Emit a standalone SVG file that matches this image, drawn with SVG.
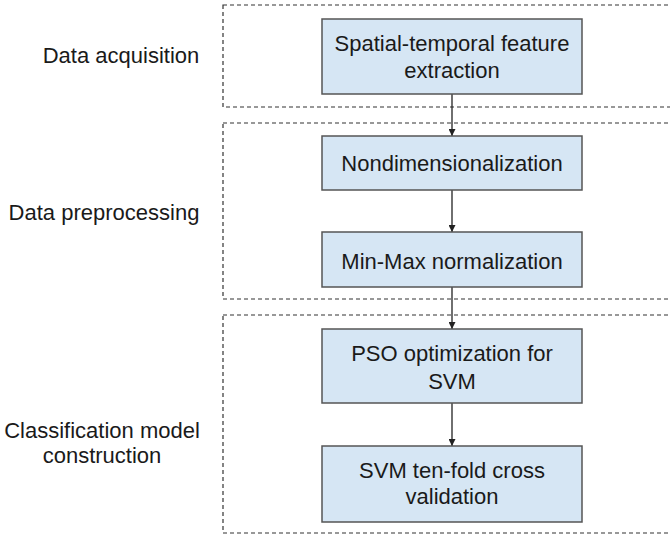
<svg xmlns="http://www.w3.org/2000/svg" width="670" height="539" viewBox="0 0 670 539">
<style>
.grp{fill:none;stroke:#333;stroke-width:1.2;stroke-dasharray:4 3}
.box{fill:#d6e6f4;stroke:#555;stroke-width:1.5}
.t{font-family:"Liberation Sans",Arial,sans-serif;font-size:22px;fill:#1a1a1a;text-anchor:middle}
.lbl{font-family:"Liberation Sans",Arial,sans-serif;font-size:22px;fill:#1a1a1a;text-anchor:middle}
.c{stroke:#222;stroke-width:1.3;fill:none;marker-end:url(#ah)}
</style>
<defs>
<marker id="ah" viewBox="0 0 10 10" refX="10" refY="5" markerWidth="7" markerHeight="7" markerUnits="userSpaceOnUse" orient="auto">
<path d="M0,0 L10,5 L0,10 z" fill="#222"/>
</marker>
</defs>
<g id="groups">
<rect class="grp" x="223" y="5" width="460" height="102"/>
<rect class="grp" x="223" y="123" width="460" height="176"/>
<rect class="grp" x="223" y="315" width="460" height="218"/>
</g>
<g id="labels">
<text class="lbl" x="121" y="63">Data acquisition</text>
<text class="lbl" x="104" y="220">Data preprocessing</text>
<text class="lbl" x="102" y="438">Classification model</text>
<text class="lbl" x="102" y="463">construction</text>
</g>
<g id="connectors">
<line class="c" x1="452" y1="94" x2="452" y2="136"/>
<line class="c" x1="452" y1="190" x2="452" y2="232"/>
<line class="c" x1="452" y1="287" x2="452" y2="329"/>
<line class="c" x1="452" y1="403" x2="452" y2="446"/>
</g>
<g id="n1">
<rect class="box" x="322" y="19" width="260" height="75"/>
<text class="t" x="452" y="51">Spatial-temporal feature</text>
<text class="t" x="452" y="78">extraction</text>
</g>
<g id="n2">
<rect class="box" x="322" y="136" width="260" height="54"/>
<text class="t" x="452" y="171">Nondimensionalization</text>
</g>
<g id="n3">
<rect class="box" x="322" y="232" width="260" height="55"/>
<text class="t" x="452" y="269">Min-Max normalization</text>
</g>
<g id="n4">
<rect class="box" x="322" y="329" width="260" height="74"/>
<text class="t" x="452" y="361">PSO optimization for</text>
<text class="t" x="452" y="389">SVM</text>
</g>
<g id="n5">
<rect class="box" x="322" y="446" width="260" height="76"/>
<text class="t" x="452" y="478">SVM ten-fold cross</text>
<text class="t" x="452" y="504">validation</text>
</g>
</svg>
